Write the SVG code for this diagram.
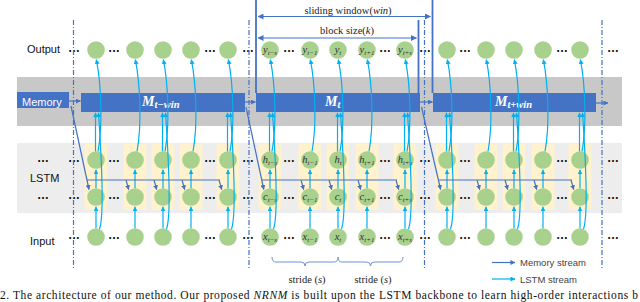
<svg xmlns="http://www.w3.org/2000/svg" width="640" height="302" viewBox="0 0 640 302">
<style>
.bgm{fill:#C8C8C8}.bgl{fill:#EDEDED}.cell{fill:#FFF2CC}.bar{fill:#4472C4}.n{fill:#A9D18E}
.dots{font:bold 12px "Liberation Sans",sans-serif;fill:#111;text-anchor:middle}
.lbl{font:11px "Liberation Sans",sans-serif;fill:#111}
.m{font:italic 10.5px "Liberation Serif",serif;fill:#333;text-anchor:middle}
.s{font-size:7px}
.M{font:bold italic 14px "Liberation Serif",serif;fill:#fff}
.Ms{font-size:10.5px}
.ls{stroke:#00B0F0;stroke-width:1.2;fill:none;marker-end:url(#ac)}
.ms{stroke:#4472C4;stroke-width:1.2;fill:none;marker-end:url(#am)}
.msn{stroke:#4472C4;stroke-width:1.2;fill:none}
.dash{stroke:#4472C4;stroke-width:1.2;stroke-dasharray:5 2 1 2;fill:none}
.win{stroke:#4472C4;stroke-width:1.8;fill:none}
.serif{font:10.5px "Liberation Serif",serif;fill:#222;text-anchor:middle}
.leg{font:9.5px "Liberation Sans",sans-serif;fill:#444}
.brace{stroke:#6F93D3;stroke-width:1;fill:none}
.cap{font:11.5px "Liberation Serif",serif;fill:#111}
</style>
<defs>
<marker id="ac" viewBox="0 0 6 6" refX="5.5" refY="3" markerWidth="5" markerHeight="5" markerUnits="userSpaceOnUse" orient="auto"><path d="M0,0L6,3L0,6z" fill="#00B0F0"/></marker>
<marker id="am" viewBox="0 0 6 6" refX="5.5" refY="3" markerWidth="5" markerHeight="5" markerUnits="userSpaceOnUse" orient="auto"><path d="M0,0L6,3L0,6z" fill="#4472C4"/></marker>
<marker id="aw" viewBox="0 0 6 6" refX="5.5" refY="3" markerWidth="6" markerHeight="6" markerUnits="userSpaceOnUse" orient="auto-start-reverse"><path d="M0,0L6,3L0,6z" fill="#4472C4"/></marker>
</defs>

<g id="background">
<rect x="17" y="77" width="605" height="49" class="bgm"/>
<rect x="17" y="143" width="605" height="70" class="bgl"/>
<g id="cells">
<rect x="84.5" y="144" width="23" height="66" rx="3" class="cell"/>
<rect x="123.5" y="144" width="23" height="66" rx="3" class="cell"/>
<rect x="151.5" y="144" width="23" height="66" rx="3" class="cell"/>
<rect x="179.5" y="144" width="23" height="66" rx="3" class="cell"/>
<rect x="216.5" y="144" width="23" height="66" rx="3" class="cell"/>
<rect x="258.5" y="144" width="23" height="66" rx="3" class="cell"/>
<rect x="298.5" y="144" width="23" height="66" rx="3" class="cell"/>
<rect x="326.5" y="144" width="23" height="66" rx="3" class="cell"/>
<rect x="355.5" y="144" width="23" height="66" rx="3" class="cell"/>
<rect x="393.5" y="144" width="23" height="66" rx="3" class="cell"/>
<rect x="435.5" y="144" width="23" height="66" rx="3" class="cell"/>
<rect x="474.5" y="144" width="23" height="66" rx="3" class="cell"/>
<rect x="502.5" y="144" width="23" height="66" rx="3" class="cell"/>
<rect x="531.5" y="144" width="23" height="66" rx="3" class="cell"/>
<rect x="568.5" y="144" width="23" height="66" rx="3" class="cell"/>
</g>
</g>

<g id="memory">
<rect x="17" y="92" width="52" height="16" class="bar"/>
<text x="22" y="105.5" class="lbl" style="fill:#fff">Memory</text>
</g>
<g id="M_t-win"><rect x="81" y="93" width="164" height="19" class="bar"/><text x="142" y="105.5" class="M">M<tspan class="Ms" dy="2.5">t−win</tspan></text></g>
<g id="M_t"><rect x="256" y="93" width="164" height="19" class="bar"/><text x="325" y="105.5" class="M">M<tspan class="Ms" dy="2.5">t</tspan></text></g>
<g id="M_t+win"><rect x="433" y="93" width="163" height="19" class="bar"/><text x="495" y="105.5" class="M">M<tspan class="Ms" dy="2.5">t+win</tspan></text></g>

<g id="row-labels">
<text x="27" y="53" class="lbl">Output</text>
<text x="30" y="182" class="lbl">LSTM</text>
<text x="30" y="245" class="lbl">Input</text>
</g>

<g id="ellipses">
<text x="74" y="52" class="dots">…</text><text x="114" y="52" class="dots">…</text><text x="210" y="52" class="dots">…</text><text x="248" y="52" class="dots">…</text><text x="289" y="52" class="dots">…</text><text x="385" y="52" class="dots">…</text><text x="425" y="52" class="dots">…</text><text x="465" y="52" class="dots">…</text><text x="562" y="52" class="dots">…</text><text x="613" y="52" class="dots">…</text>
<text x="43" y="162" class="dots">…</text><text x="74" y="162" class="dots">…</text><text x="114" y="162" class="dots">…</text><text x="210" y="162" class="dots">…</text><text x="248" y="162" class="dots">…</text><text x="289" y="162" class="dots">…</text><text x="385" y="162" class="dots">…</text><text x="425" y="162" class="dots">…</text><text x="465" y="162" class="dots">…</text><text x="562" y="162" class="dots">…</text><text x="613" y="162" class="dots">…</text>
<text x="43" y="199" class="dots">…</text><text x="74" y="199" class="dots">…</text><text x="114" y="199" class="dots">…</text><text x="210" y="199" class="dots">…</text><text x="248" y="199" class="dots">…</text><text x="289" y="199" class="dots">…</text><text x="385" y="199" class="dots">…</text><text x="425" y="199" class="dots">…</text><text x="465" y="199" class="dots">…</text><text x="562" y="199" class="dots">…</text><text x="613" y="199" class="dots">…</text>
<text x="74" y="239" class="dots">…</text><text x="114" y="239" class="dots">…</text><text x="210" y="239" class="dots">…</text><text x="248" y="239" class="dots">…</text><text x="289" y="239" class="dots">…</text><text x="385" y="239" class="dots">…</text><text x="425" y="239" class="dots">…</text><text x="465" y="239" class="dots">…</text><text x="562" y="239" class="dots">…</text><text x="613" y="239" class="dots">…</text>
</g>

<g id="dashed-separators">
<path d="M73.5,20V268M249,20V268M424.5,20V268M602,20V268" class="dash"/>
</g>

<g id="window">
<path d="M256,0V93M432.5,0V93M418.5,20V93" class="win"/>
<path d="M258,16.5H430.5" class="msn" marker-start="url(#aw)" marker-end="url(#aw)"/>
<path d="M258,38H416.5" class="msn" marker-start="url(#aw)" marker-end="url(#aw)"/>
<text x="348" y="14" class="serif">sliding window(<tspan font-style="italic">win</tspan>)</text>
<text x="347" y="34" class="serif">block size(<tspan font-style="italic">k</tspan>)</text>
</g>

<g id="nodes-block1">
<g id="o1a"><circle cx="96" cy="50" r="8.8" class="n"/></g><g id="o1b"><circle cx="135" cy="50" r="8.8" class="n"/></g><g id="o1c"><circle cx="163" cy="50" r="8.8" class="n"/></g><g id="o1d"><circle cx="191" cy="50" r="8.8" class="n"/></g><g id="o1e"><circle cx="228" cy="50" r="8.8" class="n"/></g>
<g id="h1a"><circle cx="96" cy="160" r="8.8" class="n"/></g><g id="h1b"><circle cx="135" cy="160" r="8.8" class="n"/></g><g id="h1c"><circle cx="163" cy="160" r="8.8" class="n"/></g><g id="h1d"><circle cx="191" cy="160" r="8.8" class="n"/></g><g id="h1e"><circle cx="228" cy="160" r="8.8" class="n"/></g>
<g id="c1a"><circle cx="96" cy="197" r="8.8" class="n"/></g><g id="c1b"><circle cx="135" cy="197" r="8.8" class="n"/></g><g id="c1c"><circle cx="163" cy="197" r="8.8" class="n"/></g><g id="c1d"><circle cx="191" cy="197" r="8.8" class="n"/></g><g id="c1e"><circle cx="228" cy="197" r="8.8" class="n"/></g>
<g id="i1a"><circle cx="96" cy="237" r="8.8" class="n"/></g><g id="i1b"><circle cx="135" cy="237" r="8.8" class="n"/></g><g id="i1c"><circle cx="163" cy="237" r="8.8" class="n"/></g><g id="i1d"><circle cx="191" cy="237" r="8.8" class="n"/></g><g id="i1e"><circle cx="228" cy="237" r="8.8" class="n"/></g>
</g>

<g id="nodes-block2">
<g id="y_t-s"><circle cx="270" cy="50" r="8.8" class="n"/><text x="270" y="52.5" class="m">y<tspan class="s" dy="2">t−s</tspan></text></g>
<g id="y_t-1"><circle cx="310" cy="50" r="8.8" class="n"/><text x="310" y="52.5" class="m">y<tspan class="s" dy="2">t−1</tspan></text></g>
<g id="y_t"><circle cx="338" cy="50" r="8.8" class="n"/><text x="338" y="52.5" class="m">y<tspan class="s" dy="2">t</tspan></text></g>
<g id="y_t+1"><circle cx="367" cy="50" r="8.8" class="n"/><text x="367" y="52.5" class="m">y<tspan class="s" dy="2">t+1</tspan></text></g>
<g id="y_t+s"><circle cx="405" cy="50" r="8.8" class="n"/><text x="405" y="52.5" class="m">y<tspan class="s" dy="2">t+s</tspan></text></g>
<g id="h_t-s"><circle cx="270" cy="160" r="8.8" class="n"/><text x="270" y="162.5" class="m">h<tspan class="s" dy="2">t−s</tspan></text></g>
<g id="h_t-1"><circle cx="310" cy="160" r="8.8" class="n"/><text x="310" y="162.5" class="m">h<tspan class="s" dy="2">t−1</tspan></text></g>
<g id="h_t"><circle cx="338" cy="160" r="8.8" class="n"/><text x="338" y="162.5" class="m">h<tspan class="s" dy="2">t</tspan></text></g>
<g id="h_t+1"><circle cx="367" cy="160" r="8.8" class="n"/><text x="367" y="162.5" class="m">h<tspan class="s" dy="2">t+1</tspan></text></g>
<g id="h_t+s"><circle cx="405" cy="160" r="8.8" class="n"/><text x="405" y="162.5" class="m">h<tspan class="s" dy="2">t+s</tspan></text></g>
<g id="c_t-s"><circle cx="270" cy="197" r="8.8" class="n"/><text x="270" y="199.5" class="m">c<tspan class="s" dy="2">t−s</tspan></text></g>
<g id="c_t-1"><circle cx="310" cy="197" r="8.8" class="n"/><text x="310" y="199.5" class="m">c<tspan class="s" dy="2">t−1</tspan></text></g>
<g id="c_t"><circle cx="338" cy="197" r="8.8" class="n"/><text x="338" y="199.5" class="m">c<tspan class="s" dy="2">t</tspan></text></g>
<g id="c_t+1"><circle cx="367" cy="197" r="8.8" class="n"/><text x="367" y="199.5" class="m">c<tspan class="s" dy="2">t+1</tspan></text></g>
<g id="c_t+s"><circle cx="405" cy="197" r="8.8" class="n"/><text x="405" y="199.5" class="m">c<tspan class="s" dy="2">t+s</tspan></text></g>
<g id="x_t-s"><circle cx="270" cy="237" r="8.8" class="n"/><text x="270" y="239.5" class="m">x<tspan class="s" dy="2">t−s</tspan></text></g>
<g id="x_t-1"><circle cx="310" cy="237" r="8.8" class="n"/><text x="310" y="239.5" class="m">x<tspan class="s" dy="2">t−1</tspan></text></g>
<g id="x_t"><circle cx="338" cy="237" r="8.8" class="n"/><text x="338" y="239.5" class="m">x<tspan class="s" dy="2">t</tspan></text></g>
<g id="x_t+1"><circle cx="367" cy="237" r="8.8" class="n"/><text x="367" y="239.5" class="m">x<tspan class="s" dy="2">t+1</tspan></text></g>
<g id="x_t+s"><circle cx="405" cy="237" r="8.8" class="n"/><text x="405" y="239.5" class="m">x<tspan class="s" dy="2">t+s</tspan></text></g>
</g>

<g id="nodes-block3">
<g id="o3a"><circle cx="447" cy="50" r="8.8" class="n"/></g><g id="o3b"><circle cx="486" cy="50" r="8.8" class="n"/></g><g id="o3c"><circle cx="514" cy="50" r="8.8" class="n"/></g><g id="o3d"><circle cx="543" cy="50" r="8.8" class="n"/></g><g id="o3e"><circle cx="580" cy="50" r="8.8" class="n"/></g>
<g id="h3a"><circle cx="447" cy="160" r="8.8" class="n"/></g><g id="h3b"><circle cx="486" cy="160" r="8.8" class="n"/></g><g id="h3c"><circle cx="514" cy="160" r="8.8" class="n"/></g><g id="h3d"><circle cx="543" cy="160" r="8.8" class="n"/></g><g id="h3e"><circle cx="580" cy="160" r="8.8" class="n"/></g>
<g id="c3a"><circle cx="447" cy="197" r="8.8" class="n"/></g><g id="c3b"><circle cx="486" cy="197" r="8.8" class="n"/></g><g id="c3c"><circle cx="514" cy="197" r="8.8" class="n"/></g><g id="c3d"><circle cx="543" cy="197" r="8.8" class="n"/></g><g id="c3e"><circle cx="580" cy="197" r="8.8" class="n"/></g>
<g id="i3a"><circle cx="447" cy="237" r="8.8" class="n"/></g><g id="i3b"><circle cx="486" cy="237" r="8.8" class="n"/></g><g id="i3c"><circle cx="514" cy="237" r="8.8" class="n"/></g><g id="i3d"><circle cx="543" cy="237" r="8.8" class="n"/></g><g id="i3e"><circle cx="580" cy="237" r="8.8" class="n"/></g>
</g>

<g id="connectors">
<g id="lstm-stream">
<path class="ls" d="M96,228.2V206.8"/><path class="ls" d="M135,228.2V206.8"/><path class="ls" d="M163,228.2V206.8"/><path class="ls" d="M191,228.2V206.8"/><path class="ls" d="M228,228.2V206.8"/>
<path class="ls" d="M270,228.2V206.8"/><path class="ls" d="M310,228.2V206.8"/><path class="ls" d="M338,228.2V206.8"/><path class="ls" d="M367,228.2V206.8"/><path class="ls" d="M405,228.2V206.8"/>
<path class="ls" d="M447,228.2V206.8"/><path class="ls" d="M486,228.2V206.8"/><path class="ls" d="M514,228.2V206.8"/><path class="ls" d="M543,228.2V206.8"/><path class="ls" d="M580,228.2V206.8"/>
<path class="ls" d="M96,188.2V169.8"/><path class="ls" d="M135,188.2V169.8"/><path class="ls" d="M163,188.2V169.8"/><path class="ls" d="M191,188.2V169.8"/><path class="ls" d="M228,188.2V169.8"/>
<path class="ls" d="M270,188.2V169.8"/><path class="ls" d="M310,188.2V169.8"/><path class="ls" d="M338,188.2V169.8"/><path class="ls" d="M367,188.2V169.8"/><path class="ls" d="M405,188.2V169.8"/>
<path class="ls" d="M447,188.2V169.8"/><path class="ls" d="M486,188.2V169.8"/><path class="ls" d="M514,188.2V169.8"/><path class="ls" d="M543,188.2V169.8"/><path class="ls" d="M580,188.2V169.8"/>
<path class="ls" d="M98,151.5C103,125 101,82 96.3,59.6"/><path class="ls" d="M137,151.5C142,125 140,82 135.3,59.6"/><path class="ls" d="M165,151.5C170,125 168,82 163.3,59.6"/><path class="ls" d="M193,151.5C198,125 196,82 191.3,59.6"/><path class="ls" d="M230,151.5C235,125 233,82 228.3,59.6"/>
<path class="ls" d="M272,151.5C277,125 275,82 270.3,59.6"/><path class="ls" d="M312,151.5C317,125 315,82 310.3,59.6"/><path class="ls" d="M340,151.5C345,125 343,82 338.3,59.6"/><path class="ls" d="M369,151.5C374,125 372,82 367.3,59.6"/><path class="ls" d="M407,151.5C412,125 410,82 405.3,59.6"/>
<path class="ls" d="M449,151.5C454,125 452,82 447.3,59.6"/><path class="ls" d="M488,151.5C493,125 491,82 486.3,59.6"/><path class="ls" d="M516,151.5C521,125 519,82 514.3,59.6"/><path class="ls" d="M545,151.5C550,125 548,82 543.3,59.6"/><path class="ls" d="M582,151.5C587,125 585,82 580.3,59.6"/>
<path class="ls" d="M95.5,151.3V112.8"/><path class="ls" d="M162.5,151.3V112.8"/><path class="ls" d="M227.5,151.3V112.8"/>
<path class="ls" d="M269.5,151.3V112.8"/><path class="ls" d="M337.5,151.3V112.8"/><path class="ls" d="M404.5,151.3V112.8"/>
<path class="ls" d="M446.5,151.3V112.8"/><path class="ls" d="M513.5,151.3V112.8"/><path class="ls" d="M579.5,151.3V112.8"/>
<path class="ls" d="M99.5,229C105,214 101,150 98.5,112.8"/><path class="ls" d="M166.5,229C172,214 168,150 165.5,112.8"/><path class="ls" d="M231.5,229C237,214 233,150 230.5,112.8"/>
<path class="ls" d="M273.5,229C279,214 275,150 272.5,112.8"/><path class="ls" d="M341.5,229C347,214 343,150 340.5,112.8"/><path class="ls" d="M408.5,229C414,214 410,150 407.5,112.8"/>
<path class="ls" d="M450.5,229C456,214 452,150 449.5,112.8"/><path class="ls" d="M517.5,229C523,214 519,150 516.5,112.8"/><path class="ls" d="M583.5,229C589,214 585,150 582.5,112.8"/>
</g>
<g id="memory-stream">
<path class="ms" d="M69,101H80.5"/><path class="ms" d="M245,102H255.5"/><path class="ms" d="M420,102H432.5"/><path class="ms" d="M596,103H608"/>
<path class="ms" d="M71,106L89,189.5"/><path class="ms" d="M246,107L263.8,189.5"/><path class="ms" d="M421.5,107L440.6,189.5"/>
<path class="msn" d="M86.8,180H220M262,180H397M439,180H572"/>
<path class="ms" d="M126,180L128.7,189.7"/><path class="ms" d="M154,180L156.7,189.7"/><path class="ms" d="M182,180L184.7,189.7"/><path class="ms" d="M219,180L221.7,189.7"/>
<path class="ms" d="M301,180L303.7,189.7"/><path class="ms" d="M329,180L331.7,189.7"/><path class="ms" d="M358,180L360.7,189.7"/><path class="ms" d="M396,180L398.7,189.7"/>
<path class="ms" d="M477,180L479.7,189.7"/><path class="ms" d="M505,180L507.7,189.7"/><path class="ms" d="M534,180L536.7,189.7"/><path class="ms" d="M571,180L573.7,189.7"/>
</g>
</g>

<g id="strides">
<path class="brace" d="M272,257Q272,262 276,262H301Q305,262 305,266Q305,262 309,262H334Q338,262 338,257"/>
<path class="brace" d="M338,257Q338,262 342,262H366.5Q370.5,262 370.5,266Q370.5,262 374.5,262H399Q403,262 403,257"/>
<text x="307" y="283" class="serif">stride (<tspan font-style="italic">s</tspan>)</text>
<text x="373" y="283" class="serif">stride (<tspan font-style="italic">s</tspan>)</text>
</g>

<g id="legend">
<path class="ms" d="M492,262.5H515"/><text x="520" y="266" class="leg">Memory stream</text>
<path class="ls" d="M492,279H515"/><text x="520" y="282.5" class="leg">LSTM stream</text>
</g>

<text x="0" y="298.5" class="cap" textLength="638" lengthAdjust="spacing">2. The architecture of our method. Our proposed <tspan font-style="italic">NRNM</tspan> is built upon the LSTM backbone to learn high-order interactions b</text>
</svg>
